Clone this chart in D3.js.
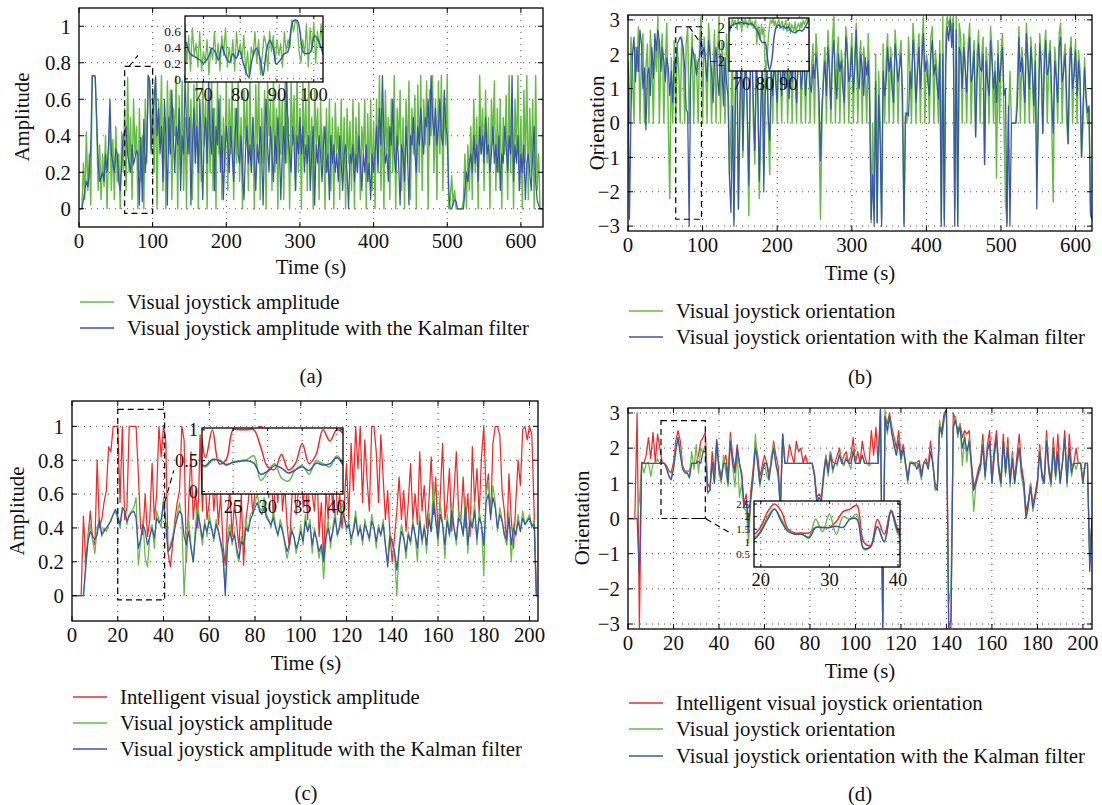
<!DOCTYPE html>
<html><head><meta charset="utf-8">
<script src="https://cdn.jsdelivr.net/npm/d3@7"></script>
<style>
body{margin:0;background:#fff;}
svg{display:block;font-family:"Liberation Serif","DejaVu Serif",serif;}
</style></head><body>
<svg id="chart" width="1102" height="805"></svg>
<script>
// ---------------- DATA ----------------
// (a) amplitude, sampled every 2 s from t = 0
const aStep = 2;
const aGreen = [0,0,0,0.25,0.05,0.42,0.1,0.3,0.02,0.73,0.73,0.73,0.45,
0.1,0.35,0.05,0.3,0.12,0.4,0.0,0.28,0.5,0.1,0.38,0.05,0.45,0.15,0.3,0.0,0.42,0.2,
0.55,0.1,0.72,0.2,0.5,0.05,0.6,0.3,0.45,0.0,0.55,0.15,0.4,0.0,0.6,0.25,0.73,0.7,0.3,0.65,
0.2,0.73,0.0,0.6,0.35,0.73,0.1,0.5,0.0,0.7,0.3,0.65,0.05,0.55,0.4,0.73,0.0,0.62,0.2,0.7,0.1,0.5,0.0,0.73,0.3,0.6,0.05,0.68,0.25,0.73,0.0,0.5,0.15,0.72,0.35,0.6,0.0,0.65,0.2,0.73,0.1,0.55,0.0,0.7,0.3,0.62,0.05,0.5,0.2,0.73,
0.1,0.6,0.3,0.7,0.05,0.55,0.25,0.73,0.15,0.5,0.0,0.65,0.35,0.6,0.1,0.72,0.2,0.5,0.0,0.68,0.3,0.73,0.05,0.55,0.25,0.65,0.0,0.7,0.4,0.6,0.1,0.73,0.2,0.55,0.0,0.68,0.3,0.6,0.05,0.73,0.25,0.5,0.0,0.7,0.35,0.62,0.1,0.73,0.2,0.55,
0.0,0.7,0.3,0.6,0.1,0.73,0.2,0.5,0.0,0.65,0.35,0.55,0.05,0.6,0.25,0.45,0.0,0.55,0.2,0.6,0.1,0.5,0.0,0.58,0.3,0.45,0.05,0.6,0.15,0.5,0.0,0.55,0.25,0.48,0.1,0.6,0.0,0.5,0.2,0.58,0.05,0.45,0.3,0.6,0.0,0.52,0.15,0.6,0.1,0.48,
0.0,0.6,0.25,0.73,0.1,0.55,0.0,0.65,0.3,0.5,0.05,0.6,0.2,0.73,0.0,0.55,0.35,0.65,0.1,0.5,0.0,0.6,0.25,0.7,0.05,0.55,0.3,0.62,0.0,0.68,0.2,0.73,0.1,0.6,0.35,0.7,0.0,0.65,0.4,0.73,0.2,0.6,0.05,0.7,0.3,0.73,0.1,0.62,0.35,0.73,
0.0,0.05,0.18,0.02,0.1,0.0,0.0,0.0,0.0,0.0,0.05,0.3,0.0,0.35,0.1,
0.45,0.05,0.6,0.2,0.5,0.0,0.73,0.3,0.55,0.1,0.65,0.25,0.5,0.0,0.6,0.35,0.7,0.1,0.55,0.2,0.6,0.0,0.5,0.3,0.62,0.05,0.73,0.2,0.55,0.0,0.6,0.3,0.73,0.1,0.5,0.0,0.65,0.25,0.73,0.05,0.55,0.2,0.6,0.0,0.73,0.1,0.3,0.0,0.0,0.0];
const aBlue = [0,0,0,0.05,0.1,0.15,0.12,0.2,0.35,0.73,0.73,0.72,0.5,
0.25,0.15,0.17,0.2,0.15,0.3,0.2,0.35,0.6,0.3,0.25,0.2,0.33,0.3,0.15,0.1,0.25,0.4,
0.42,0.45,0.3,0.25,0.2,0.35,0.24,0.28,0.32,0.3,0.02,0.39,0.04,0.49,0.2,0.32,0.73,0.7,0.32,0.5,
0.6,0.72,0.4,0.55,0.3,0.45,0.15,0.6,0.4,0.02,0.5,0.3,0.65,0.4,0.2,0.45,0.35,0.55,0.1,0.4,0.3,0.73,0.45,0.3,0.5,0.02,0.35,0.55,0.25,0.45,0.2,0.6,0.35,0.05,0.4,0.5,0.25,0.73,0.4,0.3,0.55,0.1,0.45,0.35,0.6,0.2,0.4,0.05,0.3,0.45,
0.35,0.2,0.45,0.3,0.15,0.4,0.55,0.3,0.25,0.4,0.2,0.05,0.3,0.45,0.25,0.35,0.2,0.5,0.3,0.1,0.35,0.25,0.45,0.3,0.02,0.4,0.6,0.35,0.2,0.45,0.3,0.15,0.4,0.25,0.5,0.35,0.05,0.3,0.45,0.25,0.73,0.4,0.3,0.2,0.45,0.35,0.1,0.4,0.3,0.5,
0.3,0.45,0.2,0.35,0.25,0.4,0.1,0.3,0.45,0.02,0.35,0.25,0.4,0.3,0.15,0.35,0.45,0.2,0.3,0.05,0.4,0.25,0.35,0.2,0.3,0.15,0.4,0.25,0.1,0.3,0.35,0.2,0.0,0.3,0.25,0.35,0.15,0.3,0.2,0.4,0.25,0.1,0.3,0.2,0.35,0.15,0.25,0.05,0.3,0.2,
0.3,0.45,0.2,0.55,0.35,0.73,0.4,0.25,0.3,0.15,0.45,0.35,0.6,0.3,0.2,0.4,0.25,0.02,0.35,0.3,0.15,0.45,0.3,0.02,0.4,0.35,0.5,0.3,0.2,0.45,0.35,0.55,0.4,0.3,0.5,0.45,0.6,0.35,0.73,0.5,0.4,0.55,0.35,0.45,0.6,0.4,0.35,0.65,0.45,0.4,
0.1,0.0,0.0,0.03,0.05,0.04,0.0,0.0,0.0,0.0,0.0,0.1,0.2,0.15,0.25,
0.3,0.2,0.4,0.25,0.35,0.15,0.45,0.3,0.4,0.25,0.5,0.3,0.35,0.2,0.3,0.45,0.25,0.35,0.2,0.4,0.1,0.3,0.25,0.45,0.35,0.2,0.4,0.3,0.73,0.15,0.35,0.25,0.4,0.1,0.3,0.2,0.35,0.05,0.25,0.3,0.2,0.1,0.3,0.45,0.15,0.05,0.02,0.0,0.0,0.0];
// (a) inset detail
const aInsetStart = 65, aInsetStep = 0.5;
const aInsetGreen = [0.7,0.2,0.55,0.1,0.65,0.3,0.45,0.15,0.6,0.1,0.35,0.2,0.5,0.05,0.4,0.25,0.6,0.2,0.45,0.1,0.55,0.3,0.65,0.15,0.4,0.2,0.5,0.1,0.6,0.3,0.45,0.25,0.55,0.05,0.35,0.0,0.4,0.3,0.6,0.2,0.5,0.05,0.3,0.55,0.45,0.1,0.6,0.35,0.55,0.2,0.5,0.3,0.45,0.15,0.6,0.35,0.5,0.4,0.75,0.6,0.75,0.7,0.35,0.2,0.5,0.3,0.7,0.15,0.65,0.35,0.72,0.2,0.6,0.4,0.7,0.3];
const aInsetBlueT = [65.3,66.4,67.7,69.1,70,71.4,72.3,73.2,74.1,75,75.9,77.1,78,78.9,79.8,80.9,82.3,83.2,84.4,85.5,86.2,87.1,88,88.9,89.8,90.9,92,92.9,93.8,94.5,95.5,96.2,97.1,98.2,99.1,100.2,101.4,102.5];
const aInsetBlue = [0.47,0.32,0.28,0.24,0.2,0.28,0.39,0.34,0.24,0.42,0.3,0.21,0.32,0.26,0.36,0.19,0.02,0.24,0.39,0.24,0.04,0.34,0.49,0.41,0.19,0.24,0.32,0.34,0.62,0.74,0.74,0.62,0.34,0.32,0.34,0.55,0.47,0.32];

// (b) orientation, sampled every 2 s from t = 0
const bStep = 2;
const bGreen = [1.8,0.0,2.5,1.6,0.0,2.2,1.5,2.8,0.0,1.9,2.6,0.0,1.6,2.3,0.0,2.7,1.8,0.0,2.4,1.5,3.1,0.0,2.0,2.6,0.0,1.7,2.9,0.0,-2.2,1.9,0.0,
2.4,0.0,2.2,1.6,0.0,2.5,1.9,0.0,2.3,2.8,0.0,1.5,2.6,0.0,2.0,1.7,0.0,2.4,3.1,0.0,
2.5,1.8,0.0,2.9,2.2,0.0,1.6,2.7,0.0,2.0,3.1,0.0,2.4,1.5,0.0,2.6,1.8,
-1.5,0.0,2.5,-2.8,1.0,2.6,-2.5,0.0,2.9,-1.0,1.5,2.4,0.0,-2.7,2.0,2.8,0.0,-1.2,2.3,1.0,-2.2,0.0,2.5,-1.5,1.8,2.7,0.0,-1.5,2.1,
0.0,2.4,1.6,0.0,2.8,2.0,0.0,2.3,1.5,2.6,0.0,1.9,2.9,0.0,2.2,1.7,0.0,2.5,3.1,0.0,1.8,2.4,0.0,2.0,2.7,0.0,1.6,2.3,0.0,2.6,1.9,0.0,
-2.8,0.0,1.5,2.2,0.0,2.7,1.8,0.0,2.4,3.1,0.0,1.9,2.5,0.0,2.1,1.6,0.0,2.8,2.3,0.0,1.7,2.6,0.0,2.0,2.9,0.0,1.8,2.4,0.0,2.2,1.5,0.0,2.6,
1.2,-2.9,0.0,-2.5,2.0,-2.9,1.5,0.0,-2.8,2.3,0.0,1.8,2.6,0.0,2.2,1.5,0.0,2.7,2.0,0.0,1.9,2.4,0.0,-2.9,0.3,
0.0,2.5,1.6,0.0,2.9,2.2,0.0,1.8,2.6,0.0,2.3,3.1,0.0,2.0,1.7,0.0,2.5,2.8,0.0,2.1,1.6,0.0,2.4,
-2.9,3.1,-2.8,2.5,3.1,2.8,3.1,2.6,3.1,-2.5,3.1,-2.9,2.9,2.5,
0.0,2.6,1.8,0.0,2.3,2.9,0.0,1.7,2.4,-0.4,2.0,2.7,0.0,1.9,2.5,-1.2,2.2,1.6,0.0,2.8,2.1,0.0,1.8,-1.6,2.4,0.0,2.0,2.6,0.0,-2.3,
-2.9,0.0,1.5,0.0,0.0,0.0,0.0,1.2,
2.8,0.0,2.2,1.6,0.0,2.9,2.0,0.0,2.5,1.7,0.0,2.3,-1.5,0.0,2.6,1.8,-0.3,2.1,2.7,0.0,1.9,2.4,
0.0,-2.3,2.2,1.6,0.0,2.6,2.9,0.0,1.8,2.3,0.0,-0.6,2.0,2.5,0.0,1.7,2.4,0.0,2.1,1.5,-1.0,0.0,1.9,0.6,0.0,0.4,-2.7,-2.8];
const bBlue = [1.8,-2.8,0.3,2.0,2.5,1.2,2.2,1.5,2.7,2.3,1.0,1.6,-0.2,1.4,1.6,0.8,2.2,1.3,2.6,2.1,2.7,2.4,1.5,2.2,1.8,1.2,1.9,1.6,0.8,1.5,0.6,
1.8,1.6,2.3,2.4,2.5,2.4,2.2,1.6,0.4,0.3,-3.0,1.5,2.2,2.0,1.7,1.4,1.8,1.9,2.5,2.0,
2.2,1.8,1.2,2.4,2.0,1.5,0.6,1.8,2.2,1.4,0.8,2.0,1.6,0.5,1.9,1.2,0.8,
-1.6,-2.6,0.5,-3.0,0.8,2.0,-2.5,0.5,2.2,-0.8,1.2,1.8,0.3,-1.8,1.5,2.2,0.6,-0.8,1.6,0.8,-1.7,0.4,1.8,-2.0,0.8,1.6,0.2,-0.5,1.5,
0.8,1.8,1.2,0.6,2.0,1.5,0.8,1.9,1.0,2.2,1.4,0.7,1.8,1.2,2.0,1.5,0.6,1.7,2.2,1.0,1.4,1.9,0.8,1.5,2.1,1.1,0.9,1.7,1.3,2.0,1.5,0.9,
-1.1,0.5,1.2,1.8,0.8,2.2,1.5,0.4,1.9,2.4,1.2,0.7,2.0,1.5,1.8,1.0,0.6,2.5,2.0,1.2,1.4,2.2,0.9,1.6,2.7,1.3,1.0,2.0,1.6,0.8,1.9,1.4,1.8,
0.5,-2.8,-1.5,-3.0,1.2,-2.9,0.8,-0.5,-3.0,1.5,0.8,1.2,2.2,1.5,1.9,1.0,0.6,2.3,1.8,1.2,1.6,2.0,0.9,-3.0,0.2,
0.3,0.2,1.5,1.0,2.4,1.8,0.6,1.4,2.2,1.0,1.9,2.6,1.5,1.8,1.2,0.8,2.0,2.4,1.4,1.7,1.2,0.7,2.0,
-3.0,2.0,-3.0,1.8,2.8,2.4,3.0,2.2,2.9,-3.0,2.7,-3.0,2.2,2.0,
1.0,2.2,1.6,0.9,2.0,2.5,1.2,1.4,2.1,-0.4,1.3,2.3,1.6,1.5,2.0,-1.2,1.8,1.2,0.8,2.4,1.8,1.0,1.5,0.6,2.0,1.2,1.7,2.2,0.8,1.0,
-3.0,0.5,-3.0,0.0,0.0,0.0,0.0,0.5,
2.5,1.5,1.9,1.2,0.6,2.6,1.8,1.0,2.2,1.5,0.5,1.8,-2.5,0.4,2.3,1.6,-0.3,1.5,2.4,1.4,1.6,2.1,
0.8,-0.3,1.8,1.3,0.6,2.2,2.5,1.2,1.5,2.0,0.8,-0.6,1.6,2.2,1.0,1.4,2.1,0.8,1.8,1.2,-1.0,0.5,1.6,0.8,0.3,0.5,-2.6,-2.8];
// (b) inset detail
const bInsetGreenStart = 64.5, bInsetGreenStep = 0.5;
const bInsetGreen = [2.8,1.6,2.5,3.0,2.2,2.9,2.6,1.8,3.1,2.4,2.7,1.5,2.9,2.3,3.0,2.6,2.0,2.8,3.1,2.2,2.7,1.9,2.5,2.9,0.0,2.2,1.8,0.5,2.4,1.2,2.0,-2.0,-2.9,-1.5,1.0,2.3,2.9,2.5,3.1,2.2,2.8,2.0,2.6,3.0,1.9,2.5,2.8,1.7,2.3,2.9,1.5,2.1,2.6,1.3,2.4,2.0,1.6,2.7,1.4,2.2,2.5,1.8,2.6,2.1,2.9,2.4,2.7,3.1,2.8,3.1];
const bInsetBlueStart = 64, bInsetBlueStep = 1;
const bInsetBlue = [1.5,2.0,2.3,2.45,2.5,2.55,2.6,2.5,2.55,2.4,2.5,2.3,1.9,1.5,0.6,0.2,0.3,-1.5,-3.0,-1.8,1.0,2.1,2.3,2.0,2.2,1.9,2.1,1.7,1.5,1.4,1.6,1.7,1.6,1.9,2.4,3.0];

// (c) amplitude, sampled every 1 s from t = 0
const cStep = 1;
const cRed = [0,0,0,0,0,0.47,0.2,0.35,0.5,0.33,
0.3,0.8,0.4,0.45,0.55,0.62,0.88,0.85,1,1,
1,0.55,1,0.45,0.52,1,1,1,1,0.72,
0.4,0.36,0.6,0.35,0.45,0.78,0.45,0.6,1,0.82,
1,0.92,0.25,0.17,0.3,0.45,0.55,0.62,1,0.92,
0.2,0.55,0.85,0.45,0.62,0.4,0.95,0.5,0.8,0.45,
0.55,0.75,0.5,0.68,0.42,0.6,0.3,0.18,0.5,0.62,
0.35,0.55,0.42,0.28,0.6,0.18,0.45,0.55,0.7,0.48,
0.62,0.85,1,1,0.95,0.72,0.58,0.8,0.45,0.7,
0.55,0.88,0.5,0.65,0.42,0.28,0.55,0.75,0.48,0.62,
0.85,0.52,0.7,0.45,0.9,0.6,0.5,0.78,0.35,0.55,
0.2,0.62,0.45,0.75,0.5,0.82,0.48,0.6,0.4,0.55,
0.78,0.45,0.9,0.62,1,0.75,1,0.55,0.92,0.68,
0.5,1,1,0.85,0.55,0.95,0.7,0.45,0.62,0.35,
0.2,0.35,0.5,0.7,0.45,0.62,0.38,0.55,0.78,0.45,
0.6,0.42,0.85,0.5,0.65,0.4,0.55,0.82,0.48,0.7,
0.35,0.6,0.9,0.45,0.55,0.75,0.38,0.62,0.85,0.5,
0.45,0.7,0.4,0.6,0.35,0.88,0.55,0.75,0.48,0.82,
1,0.6,0.72,0.45,0.9,1,1,0.95,0.62,0.5,
0.3,0.72,0.45,0.28,0.55,0.8,0.65,0.98,1,0.92,
1,0.95,0.5,0,0];
const cGreen = [0,0,0,0,0,0,0.15,0.35,0.42,0.33,
0.25,0.4,0.45,0.35,0.4,0.38,0.42,0.45,0.48,0.5,
0.45,0.4,0.5,0.52,0.42,0.48,0.5,0.52,0.58,0.18,
0.32,0.45,0.22,0.17,0.35,0.42,0.28,0.5,0.45,0.4,
0.58,0.45,0.25,0.3,0.35,0.42,0.48,0.55,0.45,0.0,
0.28,0.45,0.3,0.2,0.42,0.55,0.4,0.3,0.45,0.35,
0.48,0.4,0.32,0.45,0.38,0.3,0.22,0.05,0.35,0.42,
0.3,0.38,0.25,0.2,0.35,0.3,0.45,0.38,0.48,0.5,
0.55,0.6,0.52,0.5,0.58,0.48,0.45,0.4,0.5,0.42,
0.35,0.45,0.4,0.3,0.22,0.28,0.4,0.35,0.25,0.32,
0.42,0.3,0.48,0.38,0.45,0.25,0.4,0.32,0.22,0.3,
0.1,0.35,0.45,0.28,0.4,0.5,0.35,0.42,0.55,0.48,
0.38,0.45,0.3,0.4,0.5,0.35,0.42,0.3,0.45,0.38,
0.32,0.48,0.4,0.28,0.42,0.35,0.45,0.3,0.2,0.38,
0.3,0.25,0.0,0.3,0.42,0.35,0.22,0.38,0.3,0.45,
0.35,0.2,0.48,0.3,0.42,0.25,0.5,0.38,0.67,0.45,
0.3,0.55,0.42,0.22,0.48,0.35,0.55,0.4,0.3,0.5,
0.45,0.35,0.58,0.25,0.48,0.4,0.55,0.3,0.5,0.42,
0.12,0.6,0.68,0.48,0.65,0.55,0.38,0.52,0.45,0.35,
0.3,0.5,0.2,0.42,0.35,0.48,0.38,0.5,0.42,0.45,
0.48,0.4,0.45,0,0];
const cBlue = [0,0,0,0,0,0,0.18,0.32,0.38,0.35,
0.33,0.36,0.45,0.36,0.38,0.4,0.42,0.44,0.48,0.51,
0.47,0.42,0.52,0.5,0.44,0.47,0.49,0.5,0.46,0.28,
0.33,0.42,0.38,0.3,0.35,0.4,0.34,0.46,0.43,0.45,
0.55,0.42,0.26,0.28,0.33,0.4,0.46,0.5,0.48,0.35,
0.3,0.38,0.28,0.2,0.36,0.48,0.42,0.34,0.42,0.38,
0.44,0.4,0.34,0.42,0.38,0.32,0.25,0.0,0.3,0.38,
0.32,0.36,0.28,0.22,0.32,0.3,0.4,0.38,0.45,0.48,
0.52,0.55,0.5,0.48,0.52,0.46,0.44,0.42,0.46,0.4,
0.36,0.42,0.38,0.32,0.26,0.3,0.38,0.35,0.28,0.32,
0.38,0.32,0.44,0.38,0.42,0.3,0.38,0.33,0.26,0.3,
0.2,0.34,0.4,0.32,0.38,0.46,0.36,0.4,0.5,0.46,
0.4,0.42,0.34,0.38,0.46,0.36,0.4,0.33,0.42,0.38,
0.34,0.44,0.4,0.32,0.4,0.36,0.42,0.3,0.17,0.35,
0.32,0.26,0.15,0.28,0.38,0.34,0.26,0.36,0.32,0.42,
0.36,0.28,0.44,0.33,0.4,0.3,0.45,0.38,0.55,0.44,
0.34,0.48,0.42,0.3,0.44,0.36,0.5,0.4,0.33,0.46,
0.43,0.36,0.52,0.3,0.44,0.4,0.5,0.34,0.46,0.42,
0.3,0.55,0.6,0.47,0.58,0.52,0.4,0.48,0.44,0.36,
0.33,0.46,0.3,0.4,0.36,0.44,0.38,0.46,0.42,0.44,
0.46,0.41,0.42,0,0];

// (d) orientation, sampled every 1 s from t = 0
const dStep = 1;
const dRed = [0,0,0,0,3.0,-3.1,1.6,1.57,1.8,2.3,
1.7,2.45,1.6,2.4,2.0,1.6,1.57,1.5,1.35,1.3,
1.6,2.2,2.5,2.2,1.5,1.35,1.35,1.35,1.57,1.57,
1.57,1.8,2.2,2.3,2.45,1.0,0.85,1.9,1.3,2.25,
1.5,1.2,1.57,1.8,1.2,2.45,1.8,1.4,2.1,1.57,
1.3,0.4,0.7,-0.2,0.8,1.4,2.2,1.8,1.2,1.5,
1.8,1.57,1.3,1.57,2.2,1.8,1.5,0.4,2.4,1.57,
1.57,2.1,1.8,1.57,2.2,1.9,2.0,1.57,1.8,1.57,
1.57,1.57,1.3,0.6,0.7,0.6,1.3,1.8,1.4,1.9,
1.6,1.57,1.8,2.0,1.57,1.8,1.9,1.57,1.8,2.3,
1.57,1.9,1.57,2.2,1.8,1.57,1.57,2.5,1.8,2.6,
1.57,3.1,-3.1,2.9,2.7,3.0,2.6,2.3,2.0,2.5,
1.8,2.1,1.57,1.2,1.6,1.6,1.57,1.6,1.65,1.3,
1.57,1.7,1.5,2.2,1.6,1.0,0.9,2.7,2.5,3.0,
3.1,-3.1,-3.1,3.0,2.8,2.5,2.7,2.3,2.5,2.4,
2.5,1.6,0.9,1.1,1.4,1.6,2.4,1.3,2.1,2.5,
1.1,2.0,2.5,1.5,1.1,2.4,1.4,2.3,1.1,1.9,
1.1,1.8,2.4,1.5,1.1,0.2,0.5,1.0,0.4,0.7,
1.1,2.1,1.3,1.1,2.5,1.5,1.1,2.3,1.3,2.4,
1.1,1.57,2.5,1.1,2.4,1.5,1.57,2.0,1.57,1.57,
1.1,1.57,1.57,-1.0,0];
const dGreen = [0,0,0,0,0,0.5,1.57,1.3,1.57,1.6,
1.2,1.57,1.57,1.7,1.57,1.57,1.57,1.45,1.2,1.15,
1.45,2.0,2.3,1.9,1.45,1.3,1.3,1.2,1.9,1.4,
2.1,1.3,2.0,1.9,2.1,0.7,0.8,1.6,1.0,2.2,
1.3,1.0,1.8,1.3,0.9,2.3,1.5,0.9,1.9,0.6,
1.0,0.3,0.2,-0.7,0.5,1.1,2.4,1.5,0.9,1.4,
1.6,1.2,1.1,1.8,2.1,1.5,1.2,0.3,2.3,1.57,
1.57,1.57,1.57,1.57,1.57,1.57,1.57,1.57,1.57,1.57,
1.57,1.57,1.2,0.4,0.6,0.5,1.1,1.8,1.2,1.9,
1.3,1.6,1.5,1.9,1.57,1.5,1.8,1.57,1.4,2.0,
1.57,1.57,1.6,1.8,1.57,1.57,1.5,1.57,1.57,1.57,
1.57,3.1,-3.0,3.1,2.4,2.9,2.5,2.0,1.8,2.3,
1.6,2.0,1.5,1.0,1.6,1.57,1.5,1.6,1.4,1.1,
1.6,1.57,1.5,1.9,1.6,0.8,0.9,2.8,2.3,2.8,
3.1,-2.4,-2.0,2.5,2.9,2.3,2.7,1.5,2.4,1.6,
2.3,1.4,0.2,1.0,1.2,1.4,2.2,1.1,2.0,2.1,
1.0,1.7,2.3,1.3,0.9,2.2,1.2,2.1,0.9,1.8,
1.0,1.5,2.0,1.2,0.8,0.0,0.3,1.0,0.2,0.6,
0.9,2.0,1.1,1.0,2.3,1.3,0.9,2.1,1.1,1.8,
1.0,1.6,2.3,0.9,2.0,1.2,1.6,1.4,1.6,1.57,
1.0,1.57,1.57,-1.3,0];
const dBlue = [0,0,0,0,0,-1.6,1.57,1.57,1.57,1.57,
1.57,1.57,1.57,1.57,1.57,1.57,1.57,1.4,1.2,1.1,
1.4,1.9,2.3,1.8,1.4,1.3,1.3,1.15,1.57,1.57,
1.57,1.62,1.57,1.9,1.9,0.75,0.8,1.6,1.0,2.2,
1.4,1.1,1.57,1.57,1.0,2.2,1.57,1.3,2.0,1.57,
1.2,0.3,0.5,-0.3,0.6,1.2,2.0,1.6,1.0,1.3,
1.57,1.57,1.1,1.57,2.0,1.57,1.3,0.2,2.4,1.57,
1.57,1.57,1.57,1.57,1.57,1.57,1.57,1.57,1.57,1.57,
1.57,1.57,1.2,0.5,0.6,0.5,1.2,1.7,1.3,1.8,
1.4,1.57,1.57,1.8,1.57,1.57,1.7,1.57,1.57,1.9,
1.57,1.57,1.57,1.8,1.57,1.57,1.57,1.57,1.57,1.57,
1.57,3.1,-3.1,2.9,2.5,2.9,2.4,2.1,1.8,2.2,
1.7,2.0,1.57,1.1,1.57,1.57,1.57,1.4,1.57,1.2,
1.57,1.6,1.4,1.9,1.57,0.9,0.8,2.6,2.4,2.9,
3.1,-3.1,-2.9,2.6,2.8,2.4,2.6,2.0,2.3,1.9,
2.2,1.5,0.8,1.0,1.3,1.5,2.1,1.2,1.9,2.2,
1.0,1.8,2.3,1.4,1.0,2.2,1.3,2.0,1.0,1.7,
1.0,1.6,2.0,1.3,1.0,0.0,0.4,0.9,0.3,0.6,
1.0,1.9,1.2,1.0,2.2,1.4,1.0,2.0,1.2,1.9,
1.0,1.57,2.3,1.0,2.0,1.3,1.57,1.57,1.57,1.57,
1.0,1.57,1.57,-1.5,0];

// tick values
const ampTimeTicksAB = [0,100,200,300,400,500,600];
const timeTicksCD = [0,20,40,60,80,100,120,140,160,180,200];
const ampTicks = [0,0.2,0.4,0.6,0.8,1];
const oriTicks = [-3,-2,-1,0,1,2,3];
const aInsetXTicks = [70,80,90,100], aInsetYTicks = [0,0.2,0.4,0.6];
const bInsetXTicks = [70,80,90], bInsetYTicks = [-2,0,2];
const cInsetXTicks = [25,30,35,40], cInsetYTicks = [0,0.5,1];
const dInsetXTicks = [20,30,40], dInsetYTicks = [0.5,1,1.5,2,2.5];

// ---------------- DRAWING ----------------
const GREEN = "#66bb46", BLUE = "#3a57a7", RED = "#ee2a2a";
const FS = 20.8;
const svg = d3.select("#chart");
const pts = (arr, t0, dt) => arr.map((v, i) => [t0 + i * dt, v]);
const ptsT = (ts, vs) => vs.map((v, i) => [ts[i], v]);
const fmt = d => (d < 0 ? "\u2212" : "") + String(+Math.abs(d).toFixed(2));
let clipId = 0;

function frame(g, x, y, xt, yt, o) {
  const L = x.range()[0], R = x.range()[1], B = y.range()[0], T = y.range()[1];
  if (o.bg) g.append("rect").attr("x", L).attr("y", T).attr("width", R - L).attr("height", B - T).attr("fill", "#fff");
  const gg = g.append("g").attr("stroke", "#444").attr("stroke-width", 0.9).attr("stroke-dasharray", "1,5");
  xt.forEach(d => { if (Math.abs(x(d) - L) > 2 && Math.abs(x(d) - R) > 2) gg.append("line").attr("x1", x(d)).attr("x2", x(d)).attr("y1", T).attr("y2", B); });
  yt.forEach(d => { if (Math.abs(y(d) - T) > 2 && Math.abs(y(d) - B) > 2) gg.append("line").attr("y1", y(d)).attr("y2", y(d)).attr("x1", L).attr("x2", R); });
}
function frameTop(g, x, y, xt, yt, o) {
  const L = x.range()[0], R = x.range()[1], B = y.range()[0], T = y.range()[1];
  const tl = o.tl || 5;
  g.append("rect").attr("x", L).attr("y", T).attr("width", R - L).attr("height", B - T)
    .attr("fill", "none").attr("stroke", "#000").attr("stroke-width", 1.3);
  const tk = g.append("g").attr("stroke", "#000").attr("stroke-width", 1);
  xt.forEach(d => {
    tk.append("line").attr("x1", x(d)).attr("x2", x(d)).attr("y1", B).attr("y2", B - tl);
    tk.append("line").attr("x1", x(d)).attr("x2", x(d)).attr("y1", T).attr("y2", T + tl);
  });
  yt.forEach(d => {
    tk.append("line").attr("y1", y(d)).attr("y2", y(d)).attr("x1", L).attr("x2", L + tl);
    tk.append("line").attr("y1", y(d)).attr("y2", y(d)).attr("x1", R).attr("x2", R - tl);
  });
  g.append("g").selectAll("text").data(xt).join("text")
    .attr("x", d => x(d)).attr("y", B + o.xlOff).attr("text-anchor", "middle")
    .attr("font-size", o.fs).attr("fill", "#111").text(d => fmt(d));
  g.append("g").selectAll("text").data(yt).join("text")
    .attr("x", L - o.ylOff).attr("y", d => y(d)).attr("dy", "0.35em").attr("text-anchor", "end")
    .attr("font-size", o.yfs || o.fs).attr("fill", "#111").text(d => fmt(d));
}
function lines(g, x, y, series, curve) {
  const id = "clip" + (clipId++);
  const L = x.range()[0], R = x.range()[1], B = y.range()[0], T = y.range()[1];
  g.append("clipPath").attr("id", id).append("rect").attr("x", L).attr("y", T).attr("width", R - L).attr("height", B - T);
  const lg = g.append("g").attr("clip-path", `url(#${id})`);
  const line = d3.line().x(d => x(d[0])).y(d => y(d[1])).curve(curve || d3.curveLinear);
  series.forEach(s => lg.append("path").attr("d", line(s.p)).attr("fill", "none")
    .attr("stroke", s.c).attr("stroke-width", s.w).attr("stroke-linejoin", "round"));
}
function dashedRect(g, x, y, x0, x1, y0, y1) {
  g.append("rect").attr("x", x(x0)).attr("y", y(y1)).attr("width", x(x1) - x(x0)).attr("height", y(y0) - y(y1))
    .attr("fill", "none").attr("stroke", "#000").attr("stroke-width", 1.2).attr("stroke-dasharray", "6,4");
}
function connector(g, p) {
  g.append("polyline").attr("points", p.map(q => q.join(",")).join(" ")).attr("fill", "none")
    .attr("stroke", "#000").attr("stroke-width", 1.1).attr("stroke-dasharray", "6,4");
}
function legend(g, x0, rows, ys) {
  rows.forEach((r, i) => {
    g.append("line").attr("x1", x0).attr("x2", x0 + 34).attr("y1", ys[i]).attr("y2", ys[i]).attr("stroke", r.c).attr("stroke-width", 1.6);
    g.append("text").attr("x", x0 + 47).attr("y", ys[i]).attr("dy", "0.33em").attr("font-size", FS).attr("fill", "#111").text(r.t);
  });
}
function titles(g, cx, ty, ylx, yly, ytext, letter, ly) {
  g.append("text").attr("x", cx).attr("y", ty).attr("text-anchor", "middle").attr("font-size", FS).attr("fill", "#111").text("Time (s)");
  g.append("text").attr("transform", `translate(${ylx},${yly}) rotate(-90)`).attr("text-anchor", "middle").attr("font-size", FS).attr("fill", "#111").text(ytext);
  g.append("text").attr("x", cx).attr("y", ly).attr("text-anchor", "middle").attr("font-size", FS).attr("fill", "#111").text(letter);
}
const mainOpt = { fs: FS, xlOff: 21, ylOff: 8, tl: 5 };
const insOpt = { fs: 18.5, xlOff: 19, ylOff: 4, tl: 3, bg: true };

// ---- (a) ----
{
  const g = svg.append("g");
  const x = d3.scaleLinear().domain([0, 630]).range([79, 543]);
  const y = d3.scaleLinear().domain([-0.1, 1.1]).range([227, 8]);
  frame(g, x, y, ampTimeTicksAB, ampTicks, mainOpt);
  lines(g, x, y, [{ p: pts(aGreen, 0, aStep), c: GREEN, w: 1.45 }, { p: pts(aBlue, 0, aStep), c: BLUE, w: 1.25 }]);
  frameTop(g, x, y, ampTimeTicksAB, ampTicks, mainOpt);
  dashedRect(g, x, y, 62, 100, -0.025, 0.78);
  connector(g, [[x(68), y(0.78)], [x(80), y(0.84)]]);
  const xi = d3.scaleLinear().domain([65, 102.5]).range([185, 323]);
  const yi = d3.scaleLinear().domain([-0.04, 0.8]).range([82, 16]);
  frame(g, xi, yi, aInsetXTicks, aInsetYTicks, insOpt);
  lines(g, xi, yi, [{ p: pts(aInsetGreen, aInsetStart, aInsetStep), c: GREEN, w: 1.3 }]);
  lines(g, xi, yi, [{ p: ptsT(aInsetBlueT, aInsetBlue), c: BLUE, w: 1.5 }], d3.curveCatmullRom);
  frameTop(g, xi, yi, aInsetXTicks, aInsetYTicks, Object.assign({}, insOpt, { yfs: 13.5 }));
  titles(g, 311, 274, 29, 117, "Amplitude", "(a)", 383);
  legend(g, 80, [{ c: GREEN, t: "Visual joystick amplitude" }, { c: BLUE, t: "Visual joystick amplitude with the Kalman filter" }], [302, 328]);
}
// ---- (b) ----
{
  const g = svg.append("g");
  const x = d3.scaleLinear().domain([0, 622]).range([628, 1092]);
  const y = d3.scaleLinear().domain([-Math.PI, Math.PI]).range([231, 15]);
  frame(g, x, y, ampTimeTicksAB, oriTicks, mainOpt);
  lines(g, x, y, [{ p: pts(bGreen, 0, bStep), c: GREEN, w: 1.45 }, { p: pts(bBlue, 0, bStep), c: BLUE, w: 1.25 }]);
  frameTop(g, x, y, ampTimeTicksAB, oriTicks, mainOpt);
  dashedRect(g, x, y, 64, 98.5, -2.8, 2.8);
  connector(g, [[x(82), y(2.8)], [x(98), y(2.3)]]);
  const xi = d3.scaleLinear().domain([64.5, 99]).range([729, 809]);
  const yi = d3.scaleLinear().domain([-Math.PI, Math.PI]).range([71, 18]);
  frame(g, xi, yi, bInsetXTicks, bInsetYTicks, insOpt);
  lines(g, xi, yi, [{ p: pts(bInsetGreen, bInsetGreenStart, bInsetGreenStep), c: GREEN, w: 1.3 }]);
  lines(g, xi, yi, [{ p: pts(bInsetBlue, bInsetBlueStart, bInsetBlueStep), c: BLUE, w: 1.5 }], d3.curveCatmullRom);
  frameTop(g, xi, yi, bInsetXTicks, bInsetYTicks, Object.assign({}, insOpt, { yfs: 14.5 }));
  titles(g, 860, 280, 604, 123, "Orientation", "(b)", 384);
  legend(g, 629, [{ c: GREEN, t: "Visual joystick orientation" }, { c: BLUE, t: "Visual joystick orientation with the Kalman filter" }], [311, 337]);
}
// ---- (c) ----
{
  const g = svg.append("g");
  const x = d3.scaleLinear().domain([0, 203.7]).range([72, 538]);
  const y = d3.scaleLinear().domain([-0.15, 1.15]).range([621, 401]);
  const ser = w => [{ p: pts(cRed, 0, cStep), c: RED, w }, { p: pts(cGreen, 0, cStep), c: GREEN, w }, { p: pts(cBlue, 0, cStep), c: BLUE, w }];
  frame(g, x, y, timeTicksCD, ampTicks, mainOpt);
  lines(g, x, y, ser(1.25));
  frameTop(g, x, y, timeTicksCD, ampTicks, mainOpt);
  dashedRect(g, x, y, 20, 40.5, -0.025, 1.1);
  connector(g, [[x(40.5), y(0.55)], [x(44.5), y(0.74)]]);
  const xi = d3.scaleLinear().domain([20.5, 40.9]).range([202, 343]);
  const yi = d3.scaleLinear().domain([-0.04, 1.03]).range([494, 428]);
  frame(g, xi, yi, cInsetXTicks, cInsetYTicks, insOpt);
  lines(g, xi, yi, ser(1.5), d3.curveCatmullRom);
  frameTop(g, xi, yi, cInsetXTicks, cInsetYTicks, insOpt);
  titles(g, 306, 670, 24, 511, "Amplitude", "(c)", 800);
  legend(g, 73, [{ c: RED, t: "Intelligent visual joystick amplitude" }, { c: GREEN, t: "Visual joystick amplitude" }, { c: BLUE, t: "Visual joystick amplitude with the Kalman filter" }], [697, 723, 749]);
}
// ---- (d) ----
{
  const g = svg.append("g");
  const x = d3.scaleLinear().domain([0, 204]).range([628, 1092]);
  const y = d3.scaleLinear().domain([-Math.PI, Math.PI]).range([629, 408]);
  const ser = w => [{ p: pts(dRed, 0, dStep), c: RED, w }, { p: pts(dGreen, 0, dStep), c: GREEN, w }, { p: pts(dBlue, 0, dStep), c: BLUE, w }];
  frame(g, x, y, timeTicksCD, oriTicks, mainOpt);
  lines(g, x, y, ser(1.25));
  frameTop(g, x, y, timeTicksCD, oriTicks, mainOpt);
  dashedRect(g, x, y, 14.5, 34, 0, 2.78);
  connector(g, [[x(30), y(0)], [x(34), y(0)], [x(46), y(-0.45)]]);
  const xi = d3.scaleLinear().domain([19, 40.3]).range([754, 900]);
  const yi = d3.scaleLinear().domain([0, 2.62]).range([567, 501]);
  frame(g, xi, yi, dInsetXTicks, dInsetYTicks, insOpt);
  lines(g, xi, yi, ser(1.5), d3.curveCatmullRom);
  frameTop(g, xi, yi, dInsetXTicks, dInsetYTicks, Object.assign({}, insOpt, { yfs: 11 }));
  titles(g, 860, 678, 589, 518, "Orientation", "(d)", 801);
  legend(g, 629, [{ c: RED, t: "Intelligent visual joystick orientation" }, { c: GREEN, t: "Visual joystick orientation" }, { c: BLUE, t: "Visual joystick orientation with the Kalman filter" }], [703, 729, 756]);
}
</script>
</body></html>
